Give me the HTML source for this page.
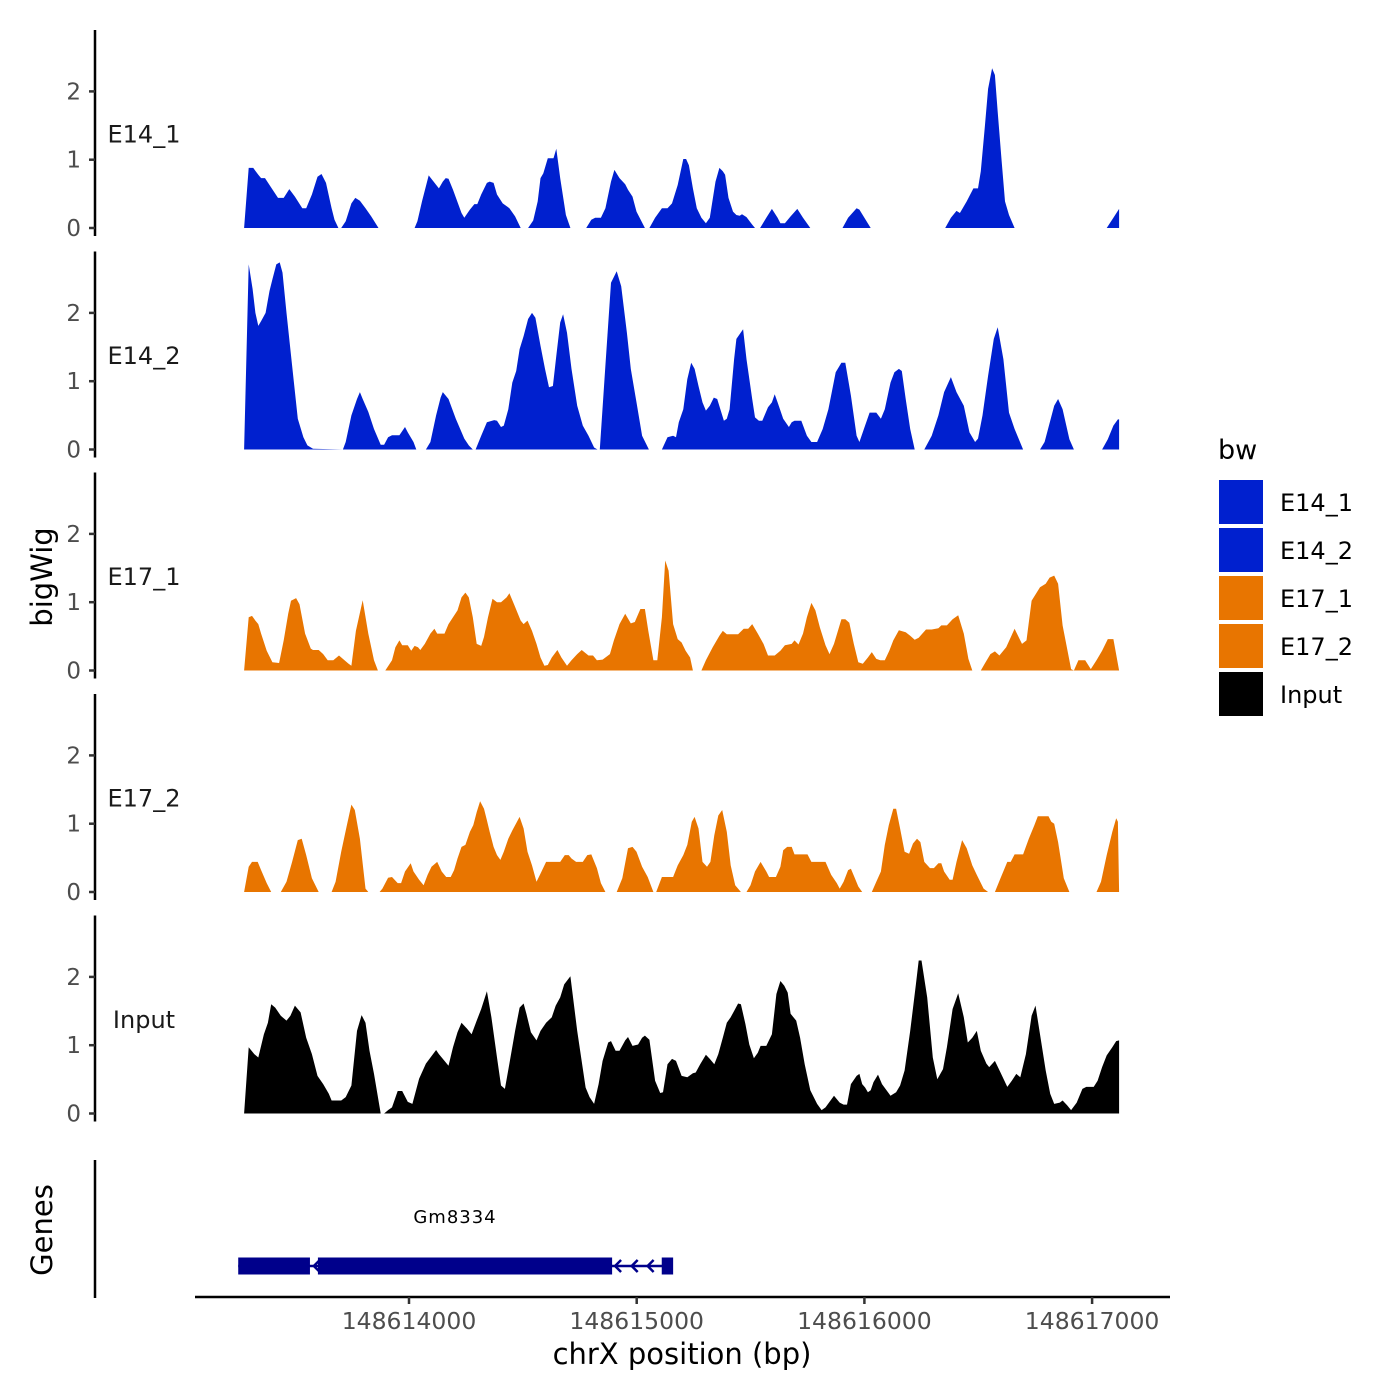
<!DOCTYPE html>
<html><head><meta charset="utf-8">
<style>
html,body{margin:0;padding:0;background:#fff;}
svg{display:block;font-family:"DejaVu Sans","Liberation Sans",sans-serif;}
</style></head>
<body>
<svg id="chart" width="1400" height="1400" viewBox="0 0 1400 1400" xmlns="http://www.w3.org/2000/svg">
<rect width="1400" height="1400" fill="#fff"/>
<g id="tracks"></g>
<g id="axes"></g>
<text x="0" y="0" transform="translate(52,577) rotate(-90)" text-anchor="middle" font-size="29" fill="#000">bigWig</text>
<text x="0" y="0" transform="translate(52,1230) rotate(-90)" text-anchor="middle" font-size="29" fill="#000">Genes</text>
<line x1="95" y1="1160" x2="95" y2="1298" stroke="#000" stroke-width="2.5"/>
<g id="genes"></g>
<g id="xaxis"></g>
<text x="682" y="1364" text-anchor="middle" font-size="29" fill="#000">chrX position (bp)</text>
<g id="legend">
<text x="1218" y="459" font-size="27" fill="#000">bw</text>
</g>
</svg>
<script>
// ---------------- data ----------------
const binStart = 148613276;   // bp of bin 0
const binWidth = 2.479;       // bp per bin
const trackNames = ["E14_1","E14_2","E17_1","E17_2","Input"];
const trackColors = ["#0020CF","#0020CF","#E87500","#E87500","#000000"];
const yTicks = [0,1,2];
const xTicks = [148614000,148615000,148616000,148617000];
const xTickLabels = ["148614000","148615000","148616000","148617000"];

const e14_1Bins = [0,8,16,25,30,37,45,60,70,80,90,103,110,120,130,137,145,155,160,167,172,180,190,197,205,215,225,238,300,302,307,315,327,345,352,357,362,370,385,390,400,408,413,420,430,435,442,448,458,470,480,490,503,512,520,525,530,538,548,553,560,570,578,606,615,622,632,640,650,656,665,675,680,688,695,710,718,728,740,750,758,768,778,783,788,795,802,810,818,825,835,842,848,852,858,866,872,878,882,890,900,905,914,925,935,945,950,958,968,980,990,1003,1060,1070,1085,1090,1110,1242,1252,1262,1268,1280,1292,1300,1305,1312,1318,1325,1330,1335,1342,1348,1355,1365,1528,1540,1550];
const e14_1Vals = [0,0.88,0.88,0.78,0.73,0.73,0.63,0.44,0.44,0.57,0.46,0.29,0.29,0.49,0.75,0.79,0.66,0.29,0.12,0,0,0.10,0.36,0.44,0.40,0.29,0.17,0,0,0,0.10,0.39,0.77,0.58,0.68,0.73,0.72,0.56,0.22,0.15,0.27,0.35,0.35,0.49,0.66,0.68,0.66,0.49,0.36,0.29,0.17,0,0,0.11,0.39,0.73,0.80,1.02,1.02,1.16,0.73,0.19,0,0,0.12,0.15,0.15,0.29,0.68,0.85,0.73,0.64,0.56,0.46,0.24,0,0,0.15,0.29,0.29,0.36,0.63,1.01,1.01,0.92,0.58,0.29,0.15,0.07,0.15,0.68,0.88,0.83,0.78,0.44,0.24,0.19,0.18,0.20,0.16,0.05,0,0,0.15,0.28,0.15,0.07,0.07,0.17,0.28,0.15,0,0,0.15,0.29,0.27,0,0,0.15,0.25,0.22,0.39,0.58,0.58,0.83,1.46,2.04,2.34,2.24,1.70,0.97,0.39,0.19,0,0,0.15,0.28];

const e14_2Bins = [0,8,15,20,25,30,38,45,50,57,63,68,75,85,95,105,112,122,175,180,190,200,205,210,220,230,242,248,255,262,275,285,290,300,305,322,330,340,348,352,362,375,390,398,405,410,420,430,443,448,455,460,468,475,482,488,495,503,510,516,525,533,540,547,553,560,565,572,580,590,600,610,620,626,630,640,650,660,668,678,685,695,705,717,740,750,760,765,770,778,785,792,798,805,812,818,825,832,838,850,855,860,868,872,884,890,900,905,912,918,928,935,940,945,955,965,970,975,987,997,1005,1015,1025,1035,1048,1058,1065,1075,1085,1090,1098,1108,1120,1128,1135,1145,1152,1160,1165,1172,1180,1188,1205,1218,1230,1240,1252,1262,1275,1285,1295,1300,1308,1318,1328,1335,1345,1355,1365,1380,1410,1418,1435,1442,1450,1462,1470,1520,1530,1540,1548,1550];
const e14_2Vals = [0,2.71,2.35,2.00,1.81,1.88,2.00,2.32,2.49,2.71,2.74,2.59,2.00,1.23,0.45,0.18,0.06,0.01,0,0.11,0.50,0.74,0.84,0.74,0.55,0.30,0.07,0.07,0.18,0.21,0.21,0.33,0.25,0.11,0,0,0.11,0.50,0.76,0.84,0.74,0.45,0.16,0.06,0,0,0.20,0.40,0.43,0.42,0.33,0.35,0.59,0.98,1.15,1.47,1.66,1.91,2.00,1.93,1.52,1.18,0.91,0.93,1.37,1.86,1.98,1.71,1.18,0.64,0.35,0.20,0.03,0,0,1.23,2.44,2.61,2.39,1.71,1.18,0.69,0.20,0,0,0.18,0.20,0.18,0.40,0.59,1.03,1.27,1.18,0.93,0.69,0.57,0.64,0.76,0.74,0.42,0.45,0.59,1.32,1.62,1.76,1.32,0.74,0.47,0.42,0.42,0.62,0.69,0.81,0.69,0.45,0.33,0.40,0.42,0.42,0.20,0.11,0.11,0.30,0.59,1.13,1.27,1.27,0.79,0.20,0.11,0.30,0.54,0.54,0.45,0.59,0.98,1.13,1.18,1.15,0.74,0.30,0,0,0.20,0.50,0.84,1.06,0.84,0.64,0.25,0.11,0.16,0.50,1.08,1.62,1.79,1.32,0.54,0.30,0,0,0.11,0.64,0.74,0.59,0.15,0,0,0.15,0.35,0.44,0.44];

const e17_1Bins = [0,8,14,20,25,30,40,50,62,70,78,83,92,98,108,118,122,132,140,148,158,168,175,185,190,198,210,220,230,237,250,262,268,275,280,290,296,302,308,312,320,330,337,342,355,362,370,378,385,392,398,405,412,420,425,432,440,448,455,465,470,478,490,495,502,510,518,525,532,538,545,555,562,572,580,590,598,610,618,625,635,648,655,665,675,685,692,702,710,716,725,732,740,746,752,760,768,775,782,790,795,810,818,830,842,848,855,875,885,893,900,910,920,928,940,950,958,970,975,982,990,997,1005,1012,1020,1030,1037,1045,1058,1065,1072,1080,1088,1096,1105,1112,1120,1127,1135,1143,1150,1160,1172,1180,1188,1195,1208,1218,1230,1235,1245,1255,1265,1275,1283,1290,1305,1312,1322,1330,1338,1350,1365,1378,1386,1395,1410,1420,1427,1435,1442,1450,1465,1470,1478,1490,1500,1510,1520,1530,1540,1550];
const e17_1Vals = [0,0.78,0.80,0.73,0.68,0.54,0.29,0.12,0.11,0.44,0.83,1.02,1.06,0.97,0.54,0.32,0.30,0.30,0.24,0.15,0.15,0.22,0.17,0.10,0.07,0.58,1.03,0.54,0.15,0,0,0.15,0.34,0.44,0.37,0.37,0.29,0.36,0.34,0.30,0.39,0.54,0.61,0.54,0.54,0.68,0.78,0.88,1.07,1.14,1.07,0.78,0.39,0.36,0.49,0.78,1.05,1.00,1.00,1.07,1.13,0.97,0.73,0.68,0.73,0.58,0.39,0.19,0.07,0.08,0.19,0.30,0.19,0.07,0.15,0.24,0.30,0.22,0.22,0.15,0.16,0.24,0.44,0.68,0.83,0.69,0.71,0.90,0.90,0.58,0.15,0.15,0.78,1.61,1.46,0.68,0.46,0.41,0.29,0.19,0,0,0.15,0.34,0.51,0.58,0.53,0.53,0.61,0.61,0.68,0.54,0.39,0.22,0.22,0.29,0.37,0.39,0.44,0.38,0.54,0.78,0.99,0.88,0.63,0.37,0.24,0.39,0.75,0.75,0.70,0.39,0.12,0.10,0.19,0.27,0.17,0.15,0.15,0.29,0.44,0.59,0.56,0.51,0.45,0.48,0.60,0.60,0.62,0.66,0.66,0.75,0.81,0.54,0.17,0,0,0.10,0.24,0.28,0.22,0.34,0.61,0.39,0.44,1.02,1.22,1.27,1.36,1.39,1.27,0.66,0.02,0,0.15,0.15,0.02,0.15,0.29,0.46,0.46,0];

const e17_2Bins = [0,8,14,24,30,40,48,65,75,85,95,102,110,120,132,155,162,172,182,190,196,205,215,220,240,245,255,262,272,278,285,295,300,310,318,325,332,342,350,358,366,372,378,385,392,400,406,412,418,425,430,435,442,448,454,460,468,475,488,495,502,510,518,525,535,545,560,568,575,580,588,600,608,615,625,632,640,660,670,680,688,695,705,715,725,730,740,760,768,778,785,793,798,805,812,820,826,833,840,847,855,862,870,880,890,897,905,915,925,930,942,950,955,962,970,975,998,1005,1015,1030,1040,1050,1055,1062,1070,1075,1082,1088,1095,1112,1120,1128,1135,1142,1150,1155,1162,1170,1178,1185,1192,1198,1205,1215,1222,1230,1235,1240,1250,1255,1262,1272,1280,1290,1298,1310,1318,1330,1340,1352,1358,1365,1380,1390,1400,1406,1425,1430,1435,1442,1452,1462,1510,1518,1528,1538,1545,1548,1550];
const e17_2Vals = [0,0.37,0.44,0.44,0.32,0.13,0,0,0.15,0.44,0.76,0.78,0.54,0.20,0,0,0.15,0.59,0.98,1.28,1.20,0.78,0.05,0,0,0.05,0.21,0.22,0.13,0.13,0.30,0.42,0.30,0.18,0.10,0.25,0.37,0.44,0.30,0.22,0.22,0.32,0.49,0.66,0.69,0.88,0.98,1.17,1.33,1.22,1.05,0.88,0.66,0.54,0.47,0.59,0.78,0.90,1.10,0.93,0.59,0.39,0.15,0.27,0.44,0.44,0.44,0.54,0.54,0.49,0.44,0.44,0.54,0.55,0.35,0.13,0,0,0.20,0.64,0.66,0.59,0.37,0.22,0,0,0.22,0.22,0.39,0.54,0.69,1.03,1.10,0.93,0.44,0.37,0.44,0.83,1.12,1.20,0.88,0.39,0.10,0,0,0.10,0.30,0.44,0.30,0.22,0.22,0.37,0.61,0.66,0.66,0.55,0.55,0.44,0.44,0.44,0.25,0.13,0.05,0.15,0.32,0.34,0.20,0.08,0,0,0.15,0.30,0.69,0.98,1.22,1.22,0.93,0.59,0.56,0.71,0.78,0.73,0.44,0.35,0.35,0.42,0.42,0.30,0.18,0.18,0.44,0.76,0.64,0.39,0.25,0.05,0,0,0.20,0.44,0.44,0.55,0.55,0.78,0.98,1.11,1.11,1.03,1.00,0.73,0.20,0,0,0.15,0.54,0.88,1.08,1.03,0];

const inputBins = [0,8,18,25,35,42,48,55,65,75,82,90,100,110,120,130,140,150,155,172,180,190,200,208,215,222,230,242,248,255,262,272,280,290,298,310,322,340,345,355,362,370,378,385,395,403,412,420,430,438,448,455,462,470,480,488,495,500,508,518,525,535,545,552,560,567,578,590,605,612,620,628,635,645,650,658,665,675,680,688,698,705,710,718,728,737,742,750,758,765,775,785,795,800,808,818,825,833,840,848,855,862,868,875,880,888,895,903,910,915,925,935,943,950,957,963,968,978,985,993,1003,1015,1023,1030,1045,1055,1062,1068,1075,1085,1090,1095,1100,1105,1110,1115,1123,1130,1138,1145,1155,1162,1170,1180,1190,1195,1200,1210,1220,1228,1238,1245,1255,1265,1275,1282,1290,1298,1305,1315,1320,1330,1340,1352,1360,1368,1375,1385,1395,1402,1410,1420,1428,1435,1445,1450,1458,1465,1475,1485,1492,1505,1512,1520,1528,1538,1545,1550];
const inputVals = [0,0.97,0.87,0.82,1.16,1.33,1.60,1.55,1.43,1.36,1.43,1.58,1.48,1.11,0.87,0.55,0.43,0.29,0.19,0.19,0.24,0.41,1.21,1.44,1.33,0.92,0.58,0,0,0.05,0.09,0.33,0.33,0.17,0.14,0.51,0.73,0.93,0.87,0.77,0.70,0.97,1.19,1.33,1.24,1.16,1.36,1.53,1.79,1.41,0.82,0.41,0.36,0.73,1.21,1.55,1.61,1.46,1.19,1.07,1.21,1.33,1.41,1.58,1.70,1.89,2.01,1.21,0.38,0.24,0.14,0.43,0.77,1.04,1.06,0.92,0.92,1.07,1.12,0.99,1.01,1.11,1.14,1.08,0.48,0.30,0.31,0.72,0.80,0.77,0.55,0.53,0.59,0.60,0.72,0.86,0.80,0.72,0.87,1.11,1.33,1.41,1.50,1.61,1.60,1.31,1.01,0.81,0.89,0.99,0.99,1.16,1.75,1.94,1.87,1.77,1.46,1.36,1.11,0.72,0.34,0.14,0.05,0.09,0.26,0.16,0.13,0.13,0.43,0.55,0.58,0.43,0.38,0.31,0.34,0.46,0.57,0.43,0.34,0.26,0.31,0.41,0.63,1.21,1.89,2.24,2.24,1.70,0.82,0.50,0.65,0.97,1.53,1.76,1.41,1.04,1.11,1.21,0.92,0.73,0.68,0.77,0.60,0.39,0.48,0.58,0.53,0.87,1.43,1.58,1.16,0.63,0.29,0.14,0.16,0.19,0.12,0.05,0.16,0.36,0.39,0.39,0.48,0.68,0.85,0.97,1.06,1.07];

const trackBins = [e14_1Bins,e14_2Bins,e17_1Bins,e17_2Bins,inputBins];
const trackVals = [e14_1Vals,e14_2Vals,e17_1Vals,e17_2Vals,inputVals];

const geneName = "Gm8334";
const geneStart = 148613250, geneEnd = 148615155;
const exonStarts = [148613250,148613600,148615110];
const exonEnds   = [148613565,148614892,148615160];
const strandArrows = [148613582,148614905,148614978,148615048];
const legendLabels = ["E14_1","E14_2","E17_1","E17_2","Input"];
const legendColors = ["#0020CF","#0020CF","#E87500","#E87500","#000000"];

// ---------------- scales ----------------
const NS="http://www.w3.org/2000/svg";
function xScale(bp){ return 409 + (bp-148614000)*0.2277; }
function binToBp(b){ return binStart + b*binWidth; }
const baselines=[228,449.5,670.5,892,1113.5];
const unitPx=68.3;
function yScale(i,v){ return baselines[i]-v*unitPx; }
function mk(tag,attrs,parent){ const e=document.createElementNS(NS,tag); for(const k in attrs) e.setAttribute(k,attrs[k]); parent.appendChild(e); return e; }

const tracksG=document.getElementById('tracks');
const axesG=document.getElementById('axes');
trackNames.forEach((name,i)=>{
  const bins=trackBins[i], vals=trackVals[i];
  let d="M"+xScale(binToBp(bins[0])).toFixed(1)+","+baselines[i];
  for(let j=0;j<bins.length;j++) d+="L"+xScale(binToBp(bins[j])).toFixed(1)+","+yScale(i,vals[j]).toFixed(1);
  d+="L"+xScale(binToBp(bins[bins.length-1])).toFixed(1)+","+baselines[i]+"Z";
  const p=mk('path',{d:d,fill:trackColors[i]},tracksG);
  
  
  const top=baselines[i]-198, bot=baselines[i]+8;
  const ax=mk('line',{x1:95,y1:top,x2:95,y2:bot,stroke:'#000','stroke-width':2.5},axesG);
  
  
  yTicks.forEach(t=>{
    const y=yScale(i,t);
    const tk=mk('line',{x1:89,y1:y,x2:95,y2:y,stroke:'#333','stroke-width':2.5},axesG);
    
    
    const tl=mk('text',{x:81,y:y+8,'text-anchor':'end','font-size':23,fill:'#4d4d4d'},axesG);
    tl.textContent=t;
    
    
  });
  const lab=mk('text',{x:144,y:yScale(i,1.38)+9,'text-anchor':'middle','font-size':24,fill:'#1a1a1a'},axesG);
  lab.textContent=name;
  
  
});

// genes
const gg=document.getElementById('genes');
const gy=1266, gcol='#00008B';
const gl=mk('line',{x1:xScale(geneStart),y1:gy,x2:xScale(geneEnd),y2:gy,stroke:gcol,'stroke-width':2.5},gg);


exonStarts.forEach((s,k)=>{
  const r=mk('rect',{x:xScale(s),y:gy-8.5,width:xScale(exonEnds[k])-xScale(s),height:17,fill:gcol},gg);
  
  
});
strandArrows.forEach(a=>{
  const x=xScale(a);
  const ar=mk('path',{d:`M${x+6},${gy-6}L${x},${gy}L${x+6},${gy+6}`,fill:'none',stroke:gcol,'stroke-width':2.5},gg);
  
  
});
const gt=mk('text',{x:455,y:1223,'text-anchor':'middle','font-size':18,fill:'#000','letter-spacing':'1'},gg);
gt.textContent=geneName;



// x axis
const xg=document.getElementById('xaxis');
const xl=mk('line',{x1:195,y1:1297,x2:1170,y2:1297,stroke:'#000','stroke-width':2.5},xg);


xTicks.forEach((t,k)=>{
  const x=xScale(t);
  const tk=mk('line',{x1:x,y1:1297,x2:x,y2:1304,stroke:'#333','stroke-width':2.5},xg);
  
  
  const tl=mk('text',{x:x,y:1329,'text-anchor':'middle','font-size':23.5,fill:'#4d4d4d'},xg);
  tl.textContent=xTickLabels[k];
  
  
});

// legend
const lg=document.getElementById('legend');
legendLabels.forEach((l,k)=>{
  const y=480+k*48;
  const r=mk('rect',{x:1219,y:y,width:44,height:44,fill:legendColors[k]},lg);
  
  
  const t=mk('text',{x:1280,y:y+31,'font-size':24,fill:'#000'},lg);
  t.textContent=l;
  
  
});
</script>
</body></html>
